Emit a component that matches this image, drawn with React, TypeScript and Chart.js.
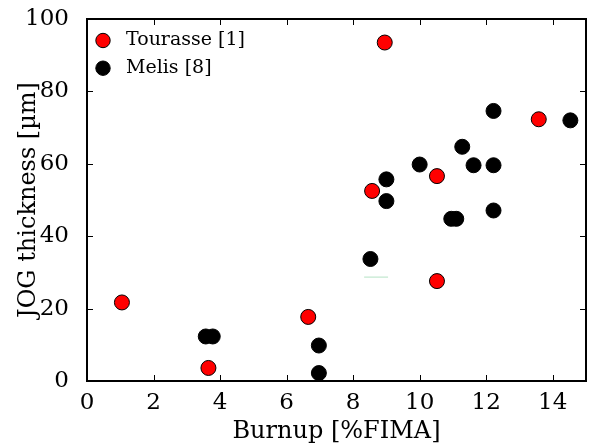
import React, { useEffect, useRef } from "react";
import { Chart, registerables } from "chart.js";

Chart.register(...registerables);

const tourasseX = [1.05, 3.65, 6.65, 8.95, 8.57, 10.52, 10.52, 13.58];
const tourasseY = [21.7, 3.6, 17.7, 93.5, 52.5, 56.6, 27.6, 72.3];

const melisX = [3.57, 3.78, 6.97, 6.97, 8.52, 9.0, 9.0, 10.0, 11.28, 11.62, 12.22, 12.22, 10.95, 11.1, 12.22, 14.53];
const melisY = [12.3, 12.3, 9.8, 2.2, 33.7, 55.7, 49.7, 59.8, 64.7, 59.6, 59.6, 74.6, 44.8, 44.8, 47.1, 72.0];

const greenX = [8.33, 9.05];
const greenY = [28.7, 28.7];

const xTicks = [0, 2, 4, 6, 8, 10, 12, 14];
const yTicks = [0, 20, 40, 60, 80, 100];

const seriesLabels = ["Tourasse [1]", "Melis [8]"];
const seriesColors = ["#ff0000", "#000000"];

const FONT = "'DejaVu Serif', serif";

const framePlugin = {
  id: "frameTicks",
  afterDraw(chart: any) {
    const { ctx, chartArea: a, scales } = chart;
    ctx.save();
    ctx.strokeStyle = "#000";
    ctx.lineWidth = 1;
    const L = 6;
    ctx.beginPath();
    for (const v of xTicks) {
      const px = Math.round(scales.x.getPixelForValue(v)) + 0.5;
      ctx.moveTo(px, a.bottom);
      ctx.lineTo(px, a.bottom - L);
      ctx.moveTo(px, a.top);
      ctx.lineTo(px, a.top + L);
    }
    for (const v of yTicks) {
      const py = Math.round(scales.y.getPixelForValue(v)) + 0.5;
      ctx.moveTo(a.left, py);
      ctx.lineTo(a.left + L, py);
      ctx.moveTo(a.right, py);
      ctx.lineTo(a.right - L, py);
    }
    ctx.stroke();
    ctx.lineWidth = 2;
    ctx.strokeRect(a.left, a.top, a.right - a.left, a.bottom - a.top);

    // legend
    ctx.font = `19px ${FONT}`;
    ctx.textBaseline = "middle";
    ctx.textAlign = "left";
    for (let i = 0; i < seriesLabels.length; i++) {
      const cy = a.top + 21.5 + i * 27.7;
      const cx = a.left + 16;
      ctx.beginPath();
      ctx.arc(cx, cy, 7.2, 0, Math.PI * 2);
      ctx.fillStyle = seriesColors[i];
      ctx.fill();
      ctx.lineWidth = 1;
      ctx.strokeStyle = "#000";
      ctx.stroke();
      ctx.fillStyle = "#000";
      ctx.fillText(seriesLabels[i], a.left + 39, cy);
    }
    ctx.restore();
  },
};

export default function App() {
  const ref = useRef<HTMLCanvasElement>(null);
  useEffect(() => {
    document.body.style.margin = "0";
    const toPts = (xs: number[], ys: number[]) => xs.map((x, i) => ({ x, y: ys[i] }));
    const chart = new Chart(ref.current!, {
      type: "scatter",
      data: {
        datasets: [
          {
            label: seriesLabels[0],
            data: toPts(tourasseX, tourasseY),
            backgroundColor: seriesColors[0],
            borderColor: "#000",
            borderWidth: 1,
            pointRadius: 7.5,
          },
          {
            label: seriesLabels[1],
            data: toPts(melisX, melisY),
            backgroundColor: seriesColors[1],
            borderColor: "#000",
            borderWidth: 1,
            pointRadius: 7.5,
          },
          {
            type: "line",
            label: "",
            data: toPts(greenX, greenY),
            borderColor: "#b4e2c4",
            borderWidth: 1,
            pointRadius: 0,
            showLine: true,
          } as any,
        ],
      },
      options: {
        animation: false,
        responsive: false,
        layout: { autoPadding: false, padding: { top: 19, right: 4, left: 0, bottom: 0 } },
        plugins: { legend: { display: false }, tooltip: { enabled: false } },
        scales: {
          x: {
            type: "linear",
            min: 0,
            max: 15,
            grid: { display: false },
            border: { display: false },
            afterBuildTicks: (s: any) => {
              s.ticks = xTicks.map((v) => ({ value: v }));
            },
            afterFit: (s: any) => {
              s.height = 65;
              s.paddingLeft = 0;
              s.paddingRight = 0;
            },
            ticks: { color: "#000", font: { family: FONT, size: 23 }, padding: 0, maxRotation: 0 },
            title: { display: true, text: "Burnup [%FIMA]", color: "#000", font: { family: FONT, size: 24 }, padding: { top: 0, bottom: 0 } },
          },
          y: {
            type: "linear",
            min: 0,
            max: 100,
            grid: { display: false },
            border: { display: false },
            afterBuildTicks: (s: any) => {
              s.ticks = yTicks.map((v) => ({ value: v }));
            },
            afterFit: (s: any) => {
              s.width = 87;
              s.paddingTop = 0;
              s.paddingBottom = 0;
            },
            ticks: { color: "#000", font: { family: FONT, size: 23 }, padding: 10 },
            title: { display: true, text: "JOG thickness [µm]", color: "#000", font: { family: FONT, size: 24 }, padding: { top: 14, bottom: 0 } },
          },
        },
      },
      plugins: [framePlugin],
    });
    return () => chart.destroy();
  }, []);
  return (
    <div style={{ width: 590, height: 446 }}>
      <canvas ref={ref} width={590} height={446} style={{ display: "block" }} />
    </div>
  );
}
